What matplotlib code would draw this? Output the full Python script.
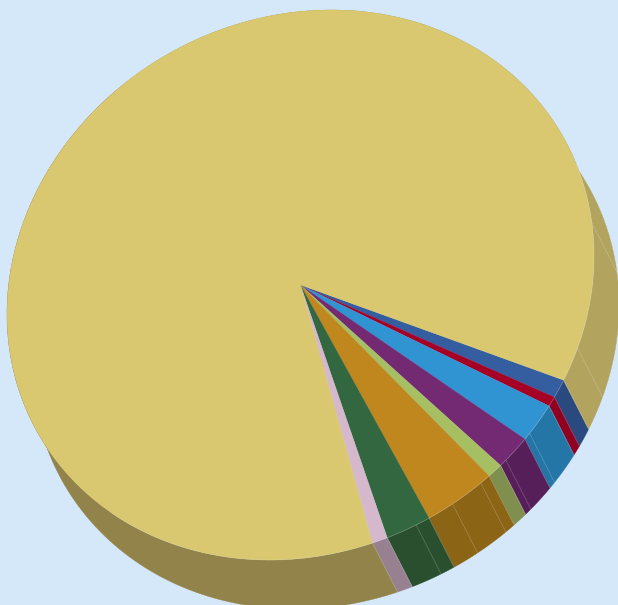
"""Tilted 3D style pie, drawn with ax.pie and an affine map plus hand built walls."""

import matplotlib
matplotlib.use("Agg")
import matplotlib.pyplot as plt
import numpy as np
from matplotlib.transforms import Affine2D

WIDTH, HEIGHT = 618, 605
BACKGROUND = "#d5e8f9"

# Slice shares in percent, clockwise on screen from the blue slice
values = [1.06, 0.56, 2.22, 1.92, 0.83, 3.89, 2.44, 0.83, 86.25]
top_colors = ["#345e9f", "#a50026", "#3093d2", "#732a73", "#a7bf63",
              "#c1871f", "#33673f", "#d5b8cb", "#d9c86f"]
wall_colors = ["#2a4a7f", "#8f0021", "#2476a7", "#571f5a", "#7f8f4d",
               "#8c6416", "#294f2f", "#97808f", "#91834a"]
wall_color_right = "#b2a45e"

# Seams on the side wall, degrees on the unit circle
seam_angles = [-7, 19.3, 38.7, 45.6, 52.1, 58.8, 66.8]

START_ANGLE = 26.3
CENTER = (300.5, 285)
AXIS_X = (293.5, -29)
AXIS_Y = (0, 273.5)
DEPTH = (25, 49)


def rim_points(theta1, theta2, shift=(0, 0)):
    """Points on the disc edge in pixels, between two angles."""
    t = np.deg2rad(np.linspace(theta1, theta2, 120))
    x = CENTER[0] + AXIS_X[0] * np.cos(t) + AXIS_Y[0] * np.sin(t) + shift[0]
    y = CENTER[1] + AXIS_X[1] * np.cos(t) + AXIS_Y[1] * np.sin(t) + shift[1]
    return x, y


def draw_wall(theta1, theta2, color):
    """Fills the side of the disc below an arc of the rim."""
    x_top, y_top = rim_points(theta1, theta2)
    x_low, y_low = rim_points(theta1, theta2, DEPTH)
    ax.fill(np.concatenate((x_top, x_low[::-1])),
            np.concatenate((y_top, y_low[::-1])),
            facecolor=color, edgecolor=color, linewidth=0.3, zorder=1)


def draw_seam(theta):
    """Thin pale line going down the wall."""
    x_top, y_top = rim_points(theta, theta)
    ax.plot([x_top[0], x_top[0] + DEPTH[0]], [y_top[0], y_top[0] + DEPTH[1]],
            color="white", alpha=0.2, linewidth=0.6, zorder=2)


fig, ax = plt.subplots(figsize=(WIDTH / 100, HEIGHT / 100), dpi=100)
fig.patch.set_facecolor(BACKGROUND)
ax.set_position([0, 0, 1, 1])

wedges, _ = ax.pie(values, colors=top_colors, startangle=START_ANGLE,
                   wedgeprops={"linewidth": 0.15, "zorder": 3})

# pie forces its own limits, go back to pixel coordinates
ax.set_aspect("auto")
ax.set_xlim(0, WIDTH)
ax.set_ylim(HEIGHT, 0)
ax.axis("off")

disc = Affine2D.from_values(AXIS_X[0], AXIS_X[1], AXIS_Y[0], AXIS_Y[1], *CENTER)
for wedge, top_color, wall_color in zip(wedges, top_colors, wall_colors):
    wedge.set_edgecolor(top_color)
    wedge.set_transform(disc + ax.transData)
    if wedge is wedges[-1]:
        # the big slice wraps round the back, so each visible end has its own shade
        split = 0.5 * (wedge.theta1 + wedge.theta2)
        draw_wall(wedge.theta1, split, wall_color)
        draw_wall(split, wedge.theta2, wall_color_right)
    else:
        draw_wall(wedge.theta1, wedge.theta2, wall_color)
    draw_seam(wedge.theta1)

for angle in seam_angles:
    draw_seam(angle)

# faint highlight where the top meets the wall
x_rim, y_rim = rim_points(-20, 130)
ax.plot(x_rim, y_rim, color="white", alpha=0.2, linewidth=0.6, zorder=4)

fig.savefig("out.png", dpi=100, facecolor=BACKGROUND)
